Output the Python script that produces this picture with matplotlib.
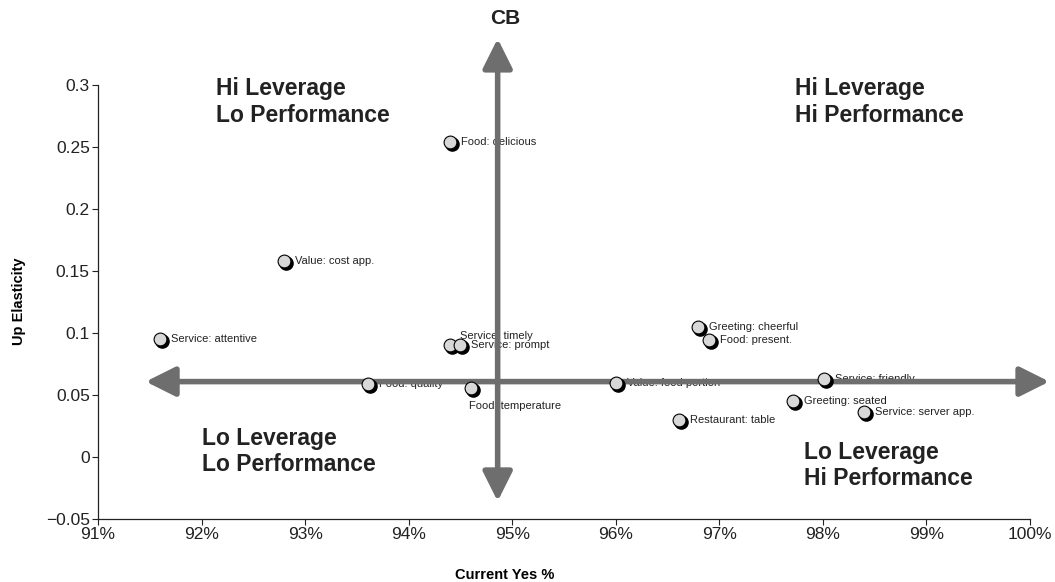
import matplotlib
matplotlib.use("Agg")
import matplotlib.pyplot as plt
from matplotlib.patches import FancyArrowPatch
from matplotlib.transforms import offset_copy
from matplotlib.ticker import FuncFormatter

plt.rcParams['font.family'] = ['Liberation Sans', 'DejaVu Sans']

# attribute drivers: current yes % vs. up elasticity
labels = ["Food: delicious", "Value: cost app.", "Service: attentive",
          "Service: timely", "Service: prompt", "Food: quality",
          "Food: temperature", "Value: food portion", "Greeting: cheerful",
          "Food: present.", "Service: friendly", "Greeting: seated",
          "Service: server app.", "Restaurant: table"]
yes_pct = [94.40, 92.80, 91.60, 94.40, 94.50, 93.61, 94.60, 96.00,
           96.80, 96.90, 98.01, 97.71, 98.40, 96.61]
elasticity = [0.254, 0.158, 0.095, 0.090, 0.090, 0.0585, 0.055, 0.059,
              0.1045, 0.094, 0.063, 0.045, 0.036, 0.0295]

# label placement (pixel offsets from the marker)
label_offsets = {"Service: timely": (10, 9), "Food: temperature": (-2, -18)}

xticks = [91, 92, 93, 94, 95, 96, 97, 98, 99, 100]
yticks = [-0.05, 0, 0.05, 0.1, 0.15, 0.2, 0.25, 0.3]

fig = plt.figure(figsize=(10.55, 5.82), dpi=100)
ax = fig.add_axes([0.093, 0.1088, 0.883, 0.746])
ax.set_xlim(91, 100)
ax.set_ylim(-0.05, 0.3)
ax.set_xticks(xticks)
ax.set_yticks(yticks)
ax.xaxis.set_major_formatter(FuncFormatter(lambda v, p: f"{v:.0f}%"))
ax.yaxis.set_major_formatter(FuncFormatter(
    lambda v, p: "0" if v == 0 else ("\u22120.05" if v < 0 else f"{v:g}")))
ax.tick_params(labelsize=12.5, length=4, width=0.8, direction='out',
               colors='#222222', pad=2)
for side in ("top", "right"):
    ax.spines[side].set_visible(False)
for side in ("left", "bottom"):
    ax.spines[side].set_linewidth(0.9)
    ax.spines[side].set_color('#222222')

ax.set_xlabel("Current Yes %", fontsize=10.5, fontweight='bold')
ax.set_ylabel("Up Elasticity", fontsize=10.5, fontweight='bold')
ax.xaxis.set_label_coords((505 - 98) / 932, -0.113)
ax.yaxis.set_label_coords(-0.077, 0.5)

# point labels
for lab, x, y in zip(labels, yes_pct, elasticity):
    dx, dy = label_offsets.get(lab, (11, 0))
    ax.annotate(lab, (x, y), xytext=(dx, dy), textcoords='offset pixels',
                fontsize=8, va='center', ha='left', color='#222222', zorder=2)

# quadrant arrows
arrow_kw = dict(arrowstyle='<|-|>,head_length=1.8,head_width=0.9',
                mutation_scale=10, color='#6e6e6e', lw=4.0,
                shrinkA=0, shrinkB=0, clip_on=False, zorder=3)
ax.add_patch(FancyArrowPatch((94.86, -0.036), (94.86, 0.337), **arrow_kw))
ax.add_patch(FancyArrowPatch((91.46, 0.0605), (100.19, 0.0605), **arrow_kw))

# markers with a drop shadow
shadow = offset_copy(ax.transData, fig=fig, x=2, y=-2, units='dots')
ax.scatter(yes_pct, elasticity, s=90, color='black', transform=shadow,
           zorder=4, clip_on=False)
ax.scatter(yes_pct, elasticity, s=85, color='#d8d8d8', edgecolor='black',
           linewidth=0.8, zorder=5, clip_on=False)

# quadrant titles
quad_kw = dict(fontsize=16.5, fontweight='bold', color='#222222',
               ha='left', va='center', linespacing=1.2)
ax.text(92.14, 0.286, "Hi Leverage\nLo Performance", **quad_kw)
ax.text(97.73, 0.286, "Hi Leverage\nHi Performance", **quad_kw)
ax.text(92.00, 0.004, "Lo Leverage\nLo Performance", **quad_kw)
ax.text(97.82, -0.007, "Lo Leverage\nHi Performance", **quad_kw)

fig.text(505 / 1055, 1 - 18 / 582, "CB", fontsize=15, fontweight='bold',
         ha='center', va='center', color='#222222')

fig.savefig("out.png", dpi=100)
